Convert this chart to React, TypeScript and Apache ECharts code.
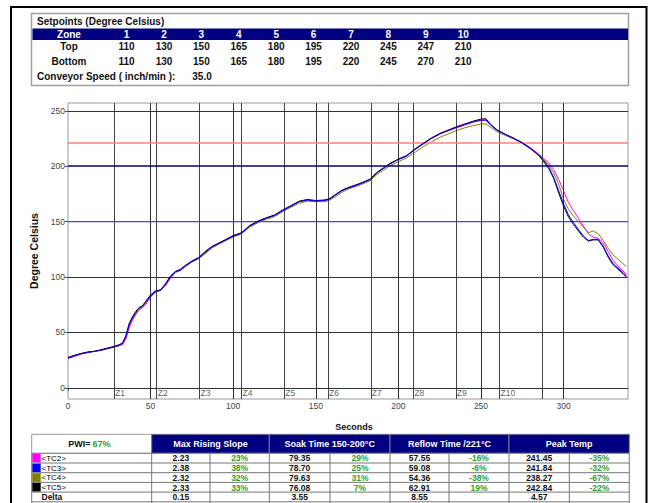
import React, { useEffect, useRef } from 'react';
import * as echarts from 'echarts';

const FONT = '"Liberation Sans", Arial, sans-serif';

// ---- Setpoints table ----
const zoneNumbers = ['1', '2', '3', '4', '5', '6', '7', '8', '9', '10'];
const topSetpoints = [110, 130, 150, 165, 180, 195, 220, 245, 247, 210];
const bottomSetpoints = [110, 130, 150, 165, 180, 195, 220, 245, 270, 210];
const conveyorSpeed = '35.0';

// ---- Profile data (seconds, degree Celsius) ----
const times = [
  0, 4, 8, 12, 16, 20, 24, 28,
  31, 33, 35, 37, 39, 41, 43, 45, 47,
  50, 53, 56, 59, 62, 65, 68, 71,
  75, 79, 83, 87, 91, 95,
  100, 105, 110, 115, 120, 125, 130, 135, 140, 145, 150, 155,
  158, 162, 166, 170, 175, 180, 183, 187, 191, 195,
  200, 205, 210, 215, 220, 225, 230, 235, 240, 245, 250,
  253, 256, 260, 265, 270, 275, 280, 285,
  288, 291, 294, 297, 300, 303, 306, 309, 312, 315, 318, 321, 324, 327, 330, 333, 336, 338,
];
const tc2 = [
  26.5, 28.5, 30.5, 32, 33, 34, 35.5, 37,
  38, 39, 44, 54, 61, 66, 70, 72, 75,
  82, 86.5, 88, 92.5, 99, 104.5, 106, 109.5,
  114, 117, 122, 127, 130, 133,
  137, 139.5, 146, 150, 153, 155.5, 160, 164, 168, 169.5, 168.5, 169,
  170, 174, 178, 180.5, 183, 186, 188, 194, 198.5, 202.5,
  206, 209.5, 215, 220.5, 225, 229, 232, 234.5, 237, 239.5, 241.4,
  241.2, 237, 232.5, 228.5, 225, 221.5, 216.5, 211,
  207, 203, 197, 188, 178, 167, 160, 153, 146, 139, 136, 135, 131, 123, 115, 110, 105.5, 102,
];
const tc3 = [
  27, 29, 31, 32, 33, 34, 35.5, 37,
  38.5, 40, 46, 57, 63, 68, 72, 73.5, 77,
  83, 87, 88, 93, 100, 105, 106, 110,
  114, 117, 122, 127, 130, 133,
  137, 139.5, 146, 150, 153, 155.5, 160, 164, 168, 169.5, 168.5, 169,
  170, 174, 178, 180.5, 183, 186, 188, 194, 198, 202,
  206, 209, 215, 220, 225, 229, 232, 235, 237.5, 240, 241.5,
  241.8, 237, 232, 228.5, 225, 221, 216, 210,
  205, 199, 190, 178, 166, 156, 149, 143, 137, 133, 134, 134, 128, 119, 112, 108, 104, 101,
];
const tc4 = [
  27, 29, 31, 32, 33, 34, 35.5, 37,
  38.5, 40, 45, 56, 62, 67, 71, 73, 76.5,
  82.5, 86.5, 88, 92.5, 99, 104, 106, 109.5,
  113.5, 116.5, 121, 126, 129.5, 132.5,
  136, 139, 145, 149, 152, 154.5, 159, 163, 166.5, 168.5, 168, 168,
  169, 172.5, 176.5, 179.5, 182, 185, 187, 192.5, 196.5, 200.5,
  204, 207.5, 212.5, 217.5, 222, 226, 229, 232, 234.5, 236.5, 238,
  238.2, 235, 231, 227.5, 224.5, 220.5, 215.5, 210,
  206, 201, 194, 184, 170, 161, 155, 150, 145, 140, 141.5, 139, 133, 126, 120, 116, 112, 109.5,
];
const tc5 = [
  27.5, 29.5, 31, 32.5, 33, 34.5, 36, 37.5,
  39, 40.5, 47, 58, 64, 69, 72.5, 74, 78,
  84, 87.5, 88.5, 94, 101, 105, 107, 110.5,
  114.5, 117.5, 123, 127.5, 130.5, 133.5,
  137.5, 140, 146.5, 150.5, 153.5, 156, 160.5, 164.5, 168.5, 170, 169, 169.5,
  170.5, 174.5, 178.5, 181, 183.5, 186.5, 188.5, 194.5, 198.5, 202.5,
  206.5, 209.5, 215.5, 220.5, 225.5, 229.5, 232.5, 235.5, 238, 240.5, 242.5,
  242.8, 237.5, 232.5, 228.5, 225, 221, 216, 209.5,
  204, 198, 189, 176, 164, 154, 147.5, 141.5, 136, 132.5, 133.5, 133.5, 127, 118, 111, 107, 103, 100,
];

const xMin = 0;
const xMax = 339;
const zoneStarts = [27.9, 53.7, 79.6, 105.1, 130.9, 157.4, 183.3, 209.1, 234.8, 261.2];
const zoneEnd = 286.9;
const zoneLabels = ['Z1', 'Z2', 'Z3', 'Z4', 'Z5', 'Z6', 'Z7', 'Z8', 'Z9', 'Z10'];
const xTickValues = [0, 50, 100, 150, 200, 250, 300];
const yTickValues = [0, 50, 100, 150, 200, 250];
const darkGridY = [0, 50, 100, 250];
const soakLow = 150;
const soakHigh = 200;
const reflowLimit = 221;

// ---- Statistics table ----
const pwi = '67%';
const statHeaders = ['Max Rising Slope', 'Soak Time 150-200°C', 'Reflow Time /221°C', 'Peak Temp'];
const tcNames = ['<TC2>', '<TC3>', '<TC4>', '<TC5>'];
const tcColors = ['#ff00ff', '#0000ff', '#808000', '#000000'];
const maxSlope = ['2.23', '2.38', '2.32', '2.33'];
const maxSlopePct = ['23%', '38%', '32%', '33%'];
const soakTime = ['79.35', '78.70', '79.63', '76.08'];
const soakTimePct = ['29%', '25%', '31%', '7%'];
const reflowTime = ['57.55', '59.08', '54.36', '62.91'];
const reflowTimePct = ['-16%', '-6%', '-38%', '19%'];
const peakTemp = ['241.45', '241.84', '238.27', '242.84'];
const peakTempPct = ['-35%', '-32%', '-67%', '-22%'];
const deltaValues = ['0.15', '3.55', '8.55', '4.57'];

function buildGraphic() {
  const g: any[] = [];
  const txt = (x: number, y: number, text: string, o: any = {}) => {
    const align = o.align || 'center';
    g.push({
      type: 'text',
      z: 100,
      style: {
        x, y, text,
        fill: o.fill || '#111',
        fontSize: o.size || 10,
        fontWeight: o.weight || 'bold',
        fontFamily: FONT,
        align, verticalAlign: 'middle',
        textAlign: align, textVerticalAlign: 'middle',
      },
    });
  };
  const rect = (x: number, y: number, w: number, h: number, style: any) =>
    g.push({ type: 'rect', z: 90, shape: { x, y, width: w, height: h }, style });
  const line = (x1: number, y1: number, x2: number, y2: number, stroke: string, lw = 1) =>
    g.push({ type: 'line', z: 95, shape: { x1, y1, x2, y2 }, style: { stroke, lineWidth: lw } });

  // outer frame
  rect(11, 7, 635.5, 520, { fill: 'none', stroke: '#000', lineWidth: 2 });

  // setpoints box
  rect(31.5, 13.5, 597, 72, { fill: 'none', stroke: '#a0a0a0', lineWidth: 1.5 });
  rect(32.5, 28.5, 595.5, 11.5, { fill: '#000080' });
  txt(37, 21, 'Setpoints (Degree Celsius)', { align: 'left', size: 10 });
  const colX0 = 126.6;
  const colStep = 37.4;
  txt(69, 34.3, 'Zone', { fill: '#fff' });
  txt(69, 46.7, 'Top');
  txt(69, 61.7, 'Bottom');
  zoneNumbers.forEach((z, i) => {
    const x = colX0 + colStep * i;
    txt(x, 34.3, z, { fill: '#fff' });
    txt(x, 46.7, String(topSetpoints[i]));
    txt(x, 61.7, String(bottomSetpoints[i]));
  });
  txt(37, 76.7, 'Conveyor Speed ( inch/min ):', { align: 'left' });
  txt(202, 76.7, conveyorSpeed);

  // "Seconds"
  txt(354, 427, 'Seconds', { size: 9 });

  // statistics table
  const cols = [31.7, 151.7, 210, 269.3, 330, 390, 449, 509, 569.3, 629.3];
  const hTop = 434.3;
  const hBot = 453.3;
  const rowH = 9.7;
  rect(cols[0], hTop, cols[1] - cols[0], hBot - hTop, { fill: '#fff', stroke: '#999', lineWidth: 1 });
  txt(90.5, 444, 'PWI=', { align: 'right', size: 9 });
  txt(92.5, 444, pwi, { align: 'left', size: 9, fill: '#2e9e2e' });
  statHeaders.forEach((h, j) => {
    const x0 = cols[1 + 2 * j];
    const x1 = cols[3 + 2 * j];
    rect(x0, hTop, x1 - x0, hBot - hTop, { fill: '#000080', stroke: '#7a7a9a', lineWidth: 1 });
    txt((x0 + x1) / 2, 444, h, { fill: '#fff', size: 9 });
  });
  const rows = [0, 1, 2, 3, 4];
  rows.forEach((r) => {
    const y = hBot + rowH * r;
    rect(cols[0], y, cols[9] - cols[0], rowH, { fill: '#fff' });
  });
  for (let r = 0; r <= 5; r++) {
    const y = hBot + rowH * r;
    line(cols[0], y, cols[9], y, '#777', 1);
  }
  cols.forEach((c) => line(c, hBot, c, 510, '#777', 1));
  const center = (a: number, b: number) => (cols[a] + cols[b]) / 2;
  const valueCols = [maxSlope, soakTime, reflowTime, peakTemp];
  const pctCols = [maxSlopePct, soakTimePct, reflowTimePct, peakTempPct];
  tcNames.forEach((name, r) => {
    const y = hBot + rowH * r;
    rect(cols[0] + 0.5, y + 0.5, 8.5, rowH - 1, { fill: tcColors[r] });
    txt(41.5, y + rowH / 2 + 0.3, name, { align: 'left', size: 8, weight: 'normal', fill: '#000' });
    valueCols.forEach((vals, j) => {
      txt(center(1 + 2 * j, 2 + 2 * j), y + rowH / 2 + 0.3, vals[r], { size: 8.5 });
      txt(center(2 + 2 * j, 3 + 2 * j), y + rowH / 2 + 0.3, pctCols[j][r], { size: 8.5, fill: '#2e9e2e' });
    });
  });
  const dy = hBot + rowH * 4 + rowH / 2 + 0.3;
  txt(41.5, dy, 'Delta', { align: 'left', size: 8.5 });
  deltaValues.forEach((v, j) => txt(center(1 + 2 * j, 2 + 2 * j), dy, v, { size: 8.5 }));
  return g;
}

function buildOption() {
  const vLines: any[] = [];
  xTickValues.slice(1).forEach((v) => vLines.push({ name: 'x' + v, xAxis: v, lineStyle: { color: '#333', width: 1, type: 'solid' } }));
  zoneStarts.forEach((v, i) => vLines.push({ name: 'zone' + i, xAxis: v, lineStyle: { color: '#444', width: 1, type: 'solid' } }));
  vLines.push({ name: 'zoneEnd', xAxis: zoneEnd, lineStyle: { color: '#444', width: 1, type: 'solid' } });
  const hLines: any[] = darkGridY.map((v) => ({ name: 'y' + v, yAxis: v, lineStyle: { color: '#333', width: 1, type: 'solid' } }));
  hLines.push({ name: 'soakHigh', yAxis: soakHigh, lineStyle: { color: '#000080', width: 1.6, type: 'solid' } });
  hLines.push({ name: 'reflow', yAxis: reflowLimit, lineStyle: { color: '#ff8080', width: 1.6, type: 'solid' } });

  const curve = (data: number[], color: string, width: number, z: number) => ({
    type: 'line',
    data: times.map((t, i) => [t, data[i]]),
    showSymbol: false,
    symbol: 'none',
    smooth: false,
    lineStyle: { color, width },
    itemStyle: { color },
    z,
    silent: true,
  });

  const markSeries = (data: any[]) => ({
    type: 'line', data: [], z: 1, silent: true,
    markLine: { symbol: ['none', 'none'], silent: true, label: { show: false }, animation: false, data },
  });

  return {
    animation: false,
    backgroundColor: '#fff',
    textStyle: { fontFamily: FONT },
    grid: {
      left: 68, top: 103, width: 560, height: 296,
      show: true, borderColor: '#999', borderWidth: 1, backgroundColor: 'transparent',
      containLabel: false, outerBoundsMode: 'none',
    },
    xAxis: {
      type: 'value', min: xMin, max: xMax, interval: 50,
      axisLine: { show: false },
      axisTick: { show: true, length: 3, lineStyle: { color: '#555' }, customValues: xTickValues },
      axisLabel: { customValues: xTickValues, fontSize: 8.5, color: '#444', margin: 2, fontFamily: FONT },
      splitLine: { show: false },
    },
    yAxis: {
      type: 'value', min: -10, max: 257,
      axisLine: { show: false },
      axisTick: { show: true, length: 3, lineStyle: { color: '#555' }, customValues: yTickValues },
      axisLabel: { customValues: yTickValues, fontSize: 8.5, color: '#444', margin: 3, fontFamily: FONT },
      splitLine: { show: false },
      name: 'Degree Celsius', nameLocation: 'middle', nameGap: 27,
      nameTextStyle: { fontSize: 10.5, fontWeight: 'bold', color: '#111', fontFamily: FONT },
    },
    series: [
      markSeries(vLines),
      markSeries(hLines),
      {
        type: 'line', z: 1, silent: true, showSymbol: false, symbol: 'none',
        data: [[xMin, soakLow], [xMax, soakLow]],
        lineStyle: { color: '#4040ff', width: 1.2 },
      },
      {
        type: 'scatter', z: 2, silent: true, symbolSize: 1, itemStyle: { color: 'rgba(0,0,0,0)' },
        data: zoneStarts.map((s, i) => ({ value: [s, -5], name: zoneLabels[i] })),
        label: { show: true, position: 'right', distance: 0.5, formatter: '{b}', fontSize: 8.5, color: '#333', fontFamily: FONT },
      },
      curve(tc4, '#808000', 1, 3),
      curve(tc2, '#ff00ff', 1, 4),
      curve(tc5, '#000000', 1, 5),
      curve(tc3, '#0000ff', 1, 6),
    ],
    graphic: buildGraphic(),
  };
}

export default function App() {
  const ref = useRef<HTMLDivElement>(null);
  useEffect(() => {
    if (!ref.current) return;
    const chart = echarts.init(ref.current, null, { renderer: 'svg' });
    chart.setOption(buildOption() as any);
    return () => chart.dispose();
  }, []);
  return (
    <div
      ref={ref}
      style={{ position: 'absolute', left: 0, top: 0, width: 649, height: 503, background: '#fff' }}
    />
  );
}
